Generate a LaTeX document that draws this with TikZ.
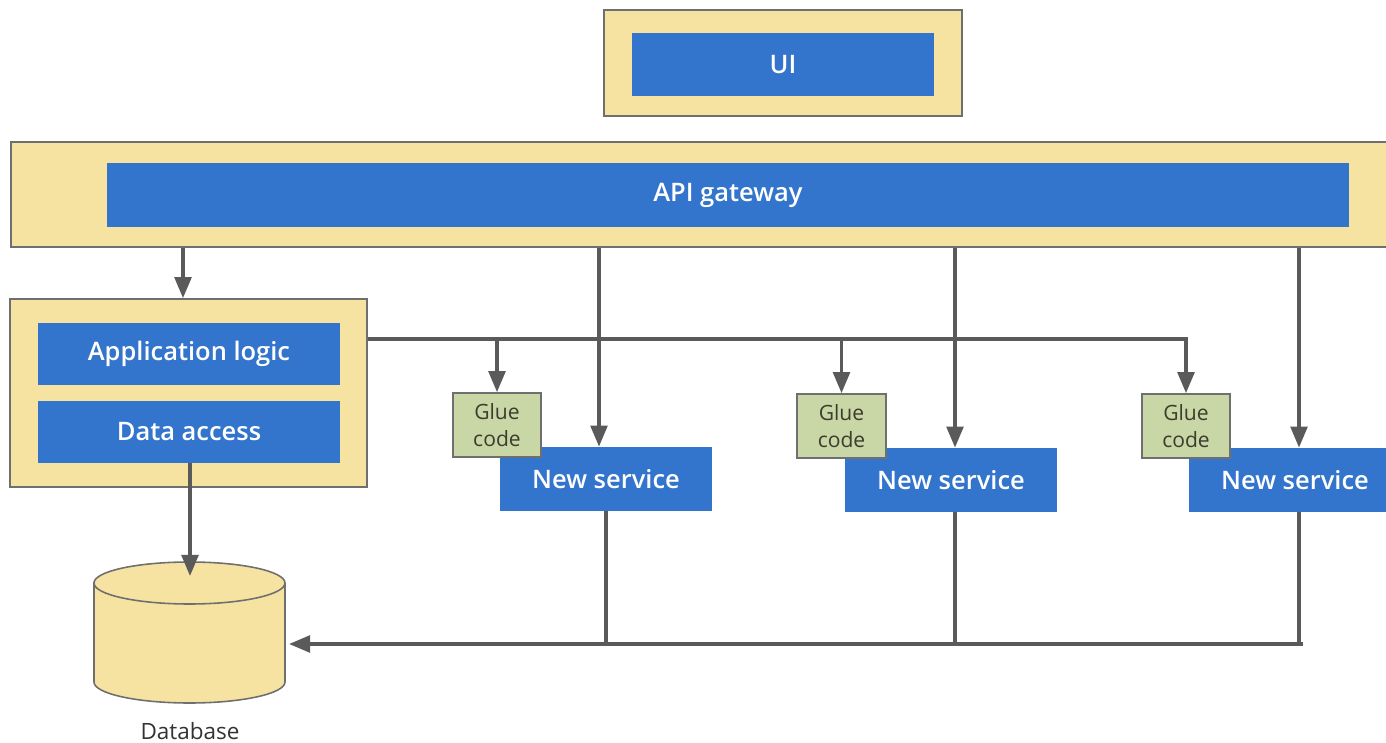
\documentclass[tikz,border=0pt]{standalone}
\usepackage{fontspec}
\setmainfont{Open Sans}[BoldFont={Open Sans Semibold}]
\usetikzlibrary{arrows.meta}
\definecolor{paleyellow}{HTML}{F7E3A1}
\definecolor{midblue}{HTML}{3375CC}
\definecolor{gluegreen}{HTML}{C9D6A6}
\definecolor{gluetext}{HTML}{3D3D2E}
\definecolor{edgegray}{HTML}{6F6F6F}
\definecolor{linegray}{HTML}{5A5A5A}
\definecolor{labelgray}{HTML}{333333}
\def\pxunit{0.02cm}
\begin{document}
\begin{tikzpicture}[x=0.02cm,y=-0.02cm,
  outerbox/.style={draw=edgegray, line width=0.9pt, fill=paleyellow, inner sep=0pt},
  bluebox/.style={fill=midblue, text=white, font=\fontsize{14.5}{17}\selectfont\bfseries, inner sep=0pt},
  gluebox/.style={draw=edgegray, line width=0.9pt, fill=gluegreen, text=gluetext, font=\fontsize{12}{15}\selectfont, align=center, inner sep=0pt},
  conn/.style={draw=linegray, line width=2pt},
  arr/.style={conn, -{Triangle[length=12pt,width=9.5pt]}}]
\useasboundingbox (0,0) rectangle (1386,743);
\clip (0,0) rectangle (1386,743);
% UI
\node[outerbox, minimum width=358*\pxunit, minimum height=106*\pxunit] (uiout) at (783,63) {};
\node[bluebox, minimum width=302*\pxunit, minimum height=63*\pxunit] (ui) at (783,64.5) {UI};
% API gateway
\node[outerbox, minimum width=1381*\pxunit, minimum height=105*\pxunit] (apiout) at (701.5,194.5) {};
\node[bluebox, minimum width=1242*\pxunit, minimum height=64*\pxunit] (api) at (728,195) {API gateway};
% Monolith
\node[outerbox, minimum width=357*\pxunit, minimum height=188*\pxunit] (appout) at (188.5,393) {};
\node[bluebox, minimum width=302*\pxunit, minimum height=62*\pxunit] (logic) at (189,354) {Application logic};
\node[bluebox, minimum width=302*\pxunit, minimum height=62*\pxunit] (data) at (189,432) {Data access};
% New services
\node[bluebox, minimum width=212*\pxunit, minimum height=64*\pxunit] (ns1) at (606,479) {New service};
\node[bluebox, minimum width=212*\pxunit, minimum height=64*\pxunit] (ns2) at (951,480) {New service};
\node[bluebox, minimum width=212*\pxunit, minimum height=64*\pxunit] (ns3) at (1295,480) {New service};
% Glue code
\node[gluebox, minimum width=88*\pxunit, minimum height=64*\pxunit] (glue1) at (497,425) {Glue\\code};
\node[gluebox, minimum width=89*\pxunit, minimum height=64*\pxunit] (glue2) at (841.5,426) {Glue\\code};
\node[gluebox, minimum width=88*\pxunit, minimum height=64*\pxunit] (glue3) at (1186,426) {Glue\\code};
% Database
\draw[draw=edgegray, line width=0.9pt, fill=paleyellow]
  (94,583) -- (94,682) arc[start angle=180, end angle=360, x radius=95.5*\pxunit, y radius=21*\pxunit]
  -- (285,583) arc[start angle=0, end angle=180, x radius=95.5*\pxunit, y radius=21*\pxunit] -- cycle;
\draw[draw=edgegray, line width=0.9pt]
  (94,583) arc[start angle=180, end angle=360, x radius=95.5*\pxunit, y radius=21*\pxunit];
\node[text=labelgray, font=\fontsize{12.8}{15}\selectfont] (dblabel) at (190,731) {Database};
\coordinate (dbtop) at (190,576);
\coordinate (dbright) at (289,644);
% Connectors
\draw[arr] (183,0 |- apiout.south) -- (183,0 |- appout.north);
\draw[arr] (appout.east |- 0,339) -| (glue3.north);
\draw[arr] (glue1.north |- 0,339) -- (glue1.north);
\draw[arr] (glue2.north |- 0,339) -- (glue2.north);
\draw[arr] (599,0 |- apiout.south) -- (599,0 |- ns1.north);
\draw[arr] (955,0 |- apiout.south) -- (955,0 |- ns2.north);
\draw[arr] (1299,0 |- apiout.south) -- (1299,0 |- ns3.north);
\draw[arr] (190,0 |- data.south) -- (dbtop);
\coordinate (bus1) at (606,644);
\coordinate (bus2) at (955,644);
\coordinate (bus3) at (1299,644);
\coordinate (busend) at (1303,644);
\draw[conn] (606,0 |- ns1.south) -- (bus1);
\draw[conn] (955,0 |- ns2.south) -- (bus2);
\draw[conn] (1299,0 |- ns3.south) -- (bus3);
\draw[arr] (busend) -- (dbright);
\end{tikzpicture}
\end{document}
